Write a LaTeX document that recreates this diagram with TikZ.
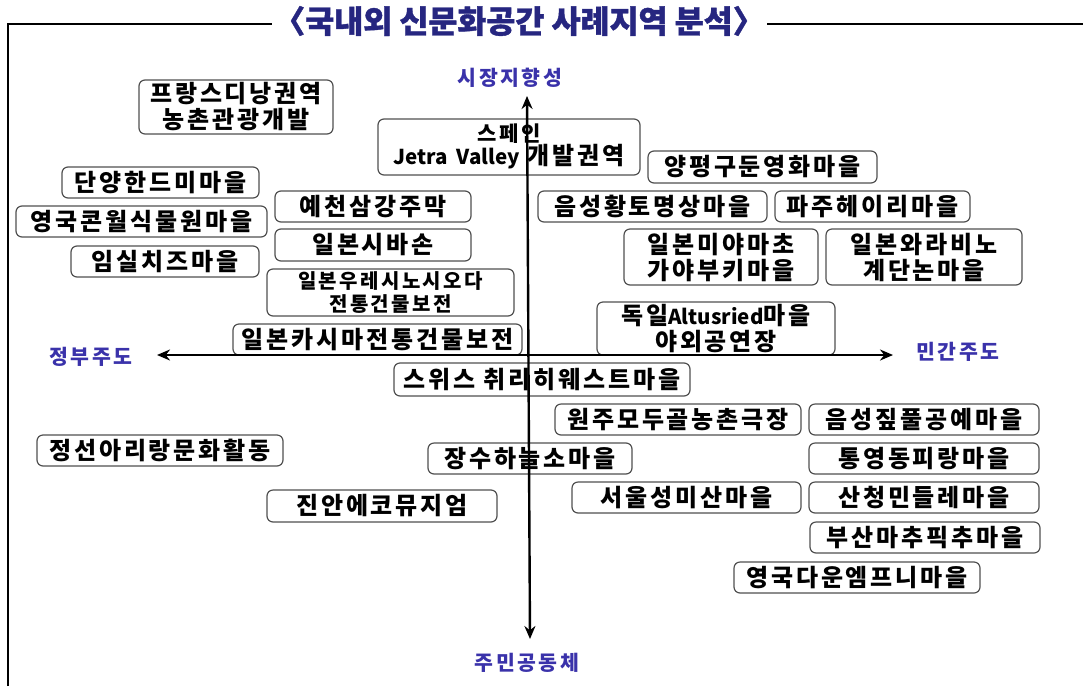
\documentclass[tikz,border=0pt]{standalone}
\usepackage{fontspec}
\setmainfont{Noto Sans CJK KR}
\newfontfamily\kr{Noto Sans CJK KR}[LetterSpace=12]
\newfontfamily\krlat{Noto Sans CJK KR}
\newfontfamily\krtitle{Noto Sans CJK KR}[BoldFeatures={FakeBold=1.2}]
\newcommand{\latpart}[1]{{\krlat\bfseries\fontsize{20.5}{26}\selectfont #1}}
\usetikzlibrary{arrows.meta}
\definecolor{titlecol}{RGB}{38,38,128}
\definecolor{axcol}{RGB}{58,50,170}
\definecolor{boxline}{RGB}{80,80,80}
\tikzset{
 box/.style={draw=boxline, line width=1.2pt, rounded corners=6pt, fill=white, inner sep=0pt, align=center, font=\kr\bfseries\fontsize{24}{26}\selectfont, text=black},
 sz/.style 2 args={minimum width=#1pt, minimum height=#2pt},
 axislab/.style={font=\kr\bfseries\fontsize{20.5}{24}\selectfont, text=axcol, inner sep=0pt},
 axisline/.style={line width=2.4pt, {Stealth[length=13pt,width=11pt]}-{Stealth[length=13pt,width=11pt]}},
 frameline/.style={line width=1.6pt},
}
\begin{document}
\begin{tikzpicture}[x=1pt,y=-1pt]
\useasboundingbox (0,0) rectangle (1083,686);
% title and frame
\node[font=\krtitle\bfseries\fontsize{31.5}{33}\selectfont, text=titlecol, inner sep=0pt] (title) at (519,21) {〈국내외 신문화공간 사례지역 분석〉};
\coordinate (tl) at (8,24);
\coordinate (tlend) at (272,24);
\coordinate (trstart) at (767,24);
\coordinate (tr) at (1083,24);
\coordinate (bl) at (8,686);
\draw[frameline] (bl) -- (tl) -- (tlend);
\draw[frameline] (trstart) -- (tr);

% boxes
\node[box, sz={194}{54}] (b1) at (236,107) {프랑스디낭권역\\농촌관광개발};
\node[box, sz={262}{56}, text depth=6pt, font=\kr\bfseries\fontsize{24}{23}\selectfont] (b2) at (509,147) {{\fontsize{21}{23}\selectfont 스페인}\\\latpart{Jetra~~Valley} 개발권역};
\node[box, sz={229}{32}] (b3) at (762.5,167) {양평구둔영화마을};
\node[box, sz={197}{31}] (b4) at (160.5,182.5) {단양한드미마을};
\node[box, sz={251}{31}] (b5) at (141.5,221.5) {영국콘월식물원마을};
\node[box, sz={188}{31}] (b6) at (165,261.5) {임실치즈마을};
\node[box, sz={196}{31}] (b7) at (373,206.5) {예천삼강주막};
\node[box, sz={196}{32}] (b8) at (373,245) {일본시바손};
\node[box, sz={247}{47}, font=\kr\bfseries\fontsize{20}{23}\selectfont] (b9) at (390.5,292.5) {일본우레시노시오다\\전통건물보전};
\node[box, sz={289}{31}] (b10) at (377.5,339.5) {일본카시마전통건물보전};
\node[box, sz={296}{33}] (b11) at (542,379.5) {스위스 취리히웨스트마을};
\node[box, sz={229}{31}] (b12) at (652.5,206.5) {음성황토명상마을};
\node[box, sz={195}{31}] (b13) at (872.5,206.5) {파주헤이리마을};
\node[box, sz={194}{56}] (b14) at (721,257) {일본미야마초\\가야부키마을};
\node[box, sz={196}{56}] (b15) at (924,257) {일본와라비노\\계단논마을};
\node[box, sz={238}{53}] (b16) at (716,328.5) {독일\latpart{Altusried}마을\\야외공연장};
\node[box, sz={246}{31}] (b17) at (678,419.5) {원주모두골농촌극장};
\node[box, sz={230}{31}] (b18) at (924,419.5) {음성짚풀공예마을};
\node[box, sz={204}{31}] (b19) at (530,458.5) {장수하늘소마을};
\node[box, sz={230}{31}] (b20) at (924,458.5) {통영동피랑마을};
\node[box, sz={246}{31}] (b21) at (160,450.5) {정선아리랑문화활동};
\node[box, sz={229}{31}] (b22) at (686.5,497.5) {서울성미산마을};
\node[box, sz={230}{31}] (b23) at (924,497.5) {산청민들레마을};
\node[box, sz={230}{32}] (b24) at (382,506) {진안에코뮤지엄};
\node[box, sz={230}{31}] (b25) at (925,537.5) {부산마추픽추마을};
\node[box, sz={246}{31}] (b26) at (857,577.5) {영국다운엠프니마을};

% axes
\coordinate (axL) at (157,355);
\coordinate (axR) at (893,355);
\coordinate (axT) at (527,96);
\coordinate (axB) at (530,639);
\draw[axisline] (axL) -- (axR);
\draw[axisline] (axT) -- (axB);
\node[axislab] (lt) at (510,78) {시장지향성};
\node[axislab] (lb) at (527,663) {주민공동체};
\node[axislab] (ll) at (91,357) {정부주도};
\node[axislab] (lr) at (958,352) {민간주도};
\end{tikzpicture}
\end{document}
